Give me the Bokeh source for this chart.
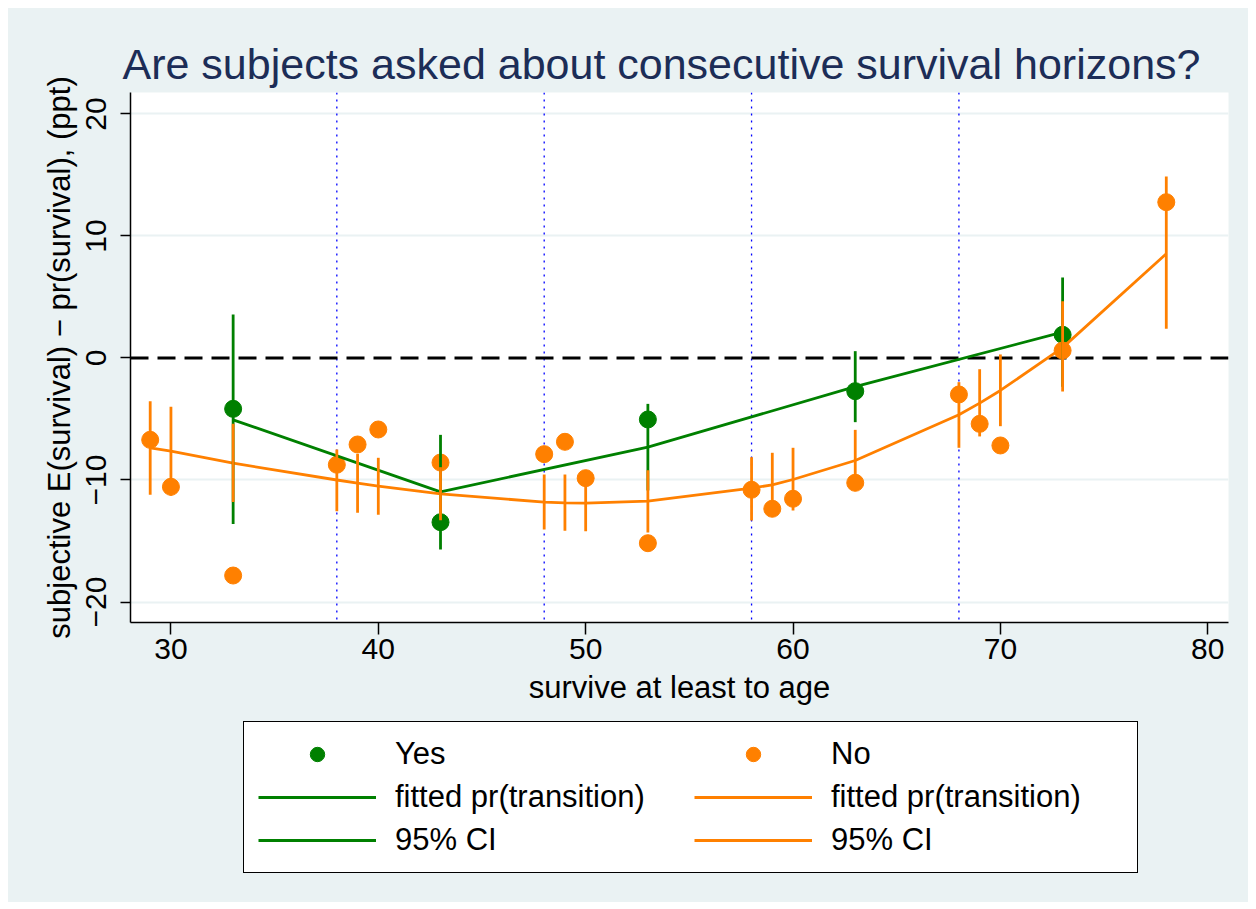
from bokeh.plotting import figure
from bokeh.layouts import column
from bokeh.models import Range1d, FixedTicker, Span, Legend, LegendItem
from bokeh.embed import file_html
from bokeh.resources import INLINE

# ---- data ----
ages_yes = [33, 43, 53, 63, 73]
mean_yes = [-4.17, -13.46, -5.04, -2.72, 1.9]
fit_yes = [-5.07, -10.97, -7.31, -2.35, 2.12]
lo_yes = [-13.6, -15.7, -10.86, -5.26, -2.36]
hi_yes = [3.57, -6.3, -3.76, 0.56, 6.6]

ages_no = [29, 30, 33, 38, 39, 40, 43, 48, 49, 50, 53, 58, 59, 60, 63, 68, 69, 70, 73, 78]
mean_no = [-6.71, -10.56, -17.83, -8.75, -7.09, -5.86, -8.57, -7.88, -6.87, -9.85,
           -15.18, -10.8, -12.36, -11.54, -10.23, -2.99, -5.4, -7.17, 0.61, 12.77]
fit_no = [-7.36, -7.64, -8.62, -10.0, -10.26, -10.5, -11.13, -11.82, -11.87, -11.9,
          -11.74, -10.67, -10.4, -9.96, -8.4, -4.66, -3.7, -2.66, 0.85, 8.54]
lo_no = [-11.2, -11.3, -11.8, -12.56, -12.69, -12.85, -13.3, -14.06, -14.17, -14.2,
         -14.3, -13.32, -13.0, -12.5, -10.91, -7.36, -6.43, -5.59, -2.75, 2.39]
hi_no = [-3.54, -4.0, -5.4, -7.5, -7.86, -8.18, -8.95, -9.55, -9.55, -9.55,
         -9.2, -8.13, -7.77, -7.36, -5.89, -1.98, -0.92, 0.29, 4.66, 14.88]

x_ticks = [30, 40, 50, 60, 70, 80]
y_ticks = [-20, -10, 0, 10, 20]
y_tick_labels = {-20: "\u221220", -10: "\u221210", 0: "0", 10: "10", 20: "20"}
x_tick_labels = {30: "30", 40: "40", 50: "50", 60: "60", 70: "70", 80: "80"}
vlines = [38, 48, 58, 68]
legend_labels = ["Yes", "fitted pr(transition)", "95% CI",
                 "No", "fitted pr(transition)", "95% CI"]

GREEN = "#008000"
ORANGE = "#FF8000"
BG = "#EAF2F3"
FONT = "Liberation Sans"

p = figure(frame_width=1098, frame_height=530,
           min_border_left=122, min_border_right=20, min_border_top=84, min_border_bottom=20,
           x_range=Range1d(28.05, 81.0), y_range=Range1d(-21.68, 21.76),
           output_backend="svg", toolbar_location=None,
           background_fill_color="white", border_fill_color=BG, outline_line_color=None)

# title
p.title.text = "Are subjects asked about consecutive survival horizons?"
p.title.text_font = FONT
p.title.text_font_size = "43px"
p.title.text_font_style = "normal"
p.title.text_color = "#1c2d57"
p.title.align = "left"
p.title.offset = -8
p.title.standoff = 10

# grid
p.xgrid.visible = False
p.ygrid.ticker = FixedTicker(ticks=[-20, -10, 10, 20])
p.ygrid.grid_line_color = BG
p.ygrid.grid_line_width = 2

# axes
for ax in (p.xaxis[0], p.yaxis[0]):
    ax.axis_line_color = "black"
    ax.axis_line_width = 1.5
    ax.major_tick_line_color = "black"
    ax.major_tick_line_width = 1.5
    ax.major_tick_in = 0
    ax.minor_tick_line_color = None
    ax.major_label_text_font = FONT
    ax.major_label_text_font_size = "30px"
    ax.major_label_text_color = "black"
    ax.axis_label_text_font = FONT
    ax.axis_label_text_font_size = "31px"
    ax.axis_label_text_font_style = "normal"
    ax.axis_label_text_color = "black"

p.xaxis.ticker = FixedTicker(ticks=x_ticks)
p.xaxis.major_label_overrides = x_tick_labels
p.xaxis.major_tick_out = 12
p.xaxis.major_label_standoff = 4
p.xaxis.axis_label = "survive at least to age"
p.xaxis.axis_label_standoff = 8

p.yaxis.ticker = FixedTicker(ticks=y_ticks)
p.yaxis.major_label_overrides = y_tick_labels
p.yaxis.major_label_orientation = "vertical"
p.yaxis.major_tick_out = 10
p.yaxis.major_label_standoff = 14
p.yaxis.axis_label = "subjective E(survival) \u2212 pr(survival), (ppt)"
p.yaxis.axis_label_standoff = 7

# reference lines
for v in vlines:
    p.add_layout(Span(location=v, dimension="height", line_color="blue",
                      line_width=1.3, line_dash="2 5", level="underlay"))
p.add_layout(Span(location=0, dimension="width", line_color="black",
                  line_width=3, line_dash="18 9", level="underlay"))

# data
p.scatter(ages_yes, mean_yes, size=17, fill_color=GREEN, line_color=GREEN)
p.scatter(ages_no, mean_no, size=17, fill_color=ORANGE, line_color=ORANGE)
p.line(ages_yes, fit_yes, line_color=GREEN, line_width=2.8)
p.line(ages_no, fit_no, line_color=ORANGE, line_width=2.8)
p.segment(x0=ages_yes, y0=lo_yes, x1=ages_yes, y1=hi_yes, line_color=GREEN, line_width=2.8)
p.segment(x0=ages_no, y0=lo_no, x1=ages_no, y1=hi_no, line_color=ORANGE, line_width=2.8)

# ---- legend strip (separate figure below, same background) ----
# the same series are drawn here, but outside this strip's ranges, so only
# their legend entries show
q = figure(width=1240, height=195, min_border=0,
           x_range=Range1d(0, 1), y_range=Range1d(100, 101),
           output_backend="svg", toolbar_location=None,
           background_fill_color=BG, border_fill_color=BG, outline_line_color=None)
q.axis.visible = False
q.grid.visible = False
rs = [
    q.scatter(ages_yes, mean_yes, size=13, fill_color=GREEN, line_color=GREEN),
    q.line(ages_yes, fit_yes, line_color=GREEN, line_width=2.8),
    q.segment(x0=ages_yes, y0=lo_yes, x1=ages_yes, y1=hi_yes, line_color=GREEN, line_width=2.8),
    q.scatter(ages_no, mean_no, size=13, fill_color=ORANGE, line_color=ORANGE),
    q.line(ages_no, fit_no, line_color=ORANGE, line_width=2.8),
    q.segment(x0=ages_no, y0=lo_no, x1=ages_no, y1=hi_no, line_color=ORANGE, line_width=2.8),
]
legend = Legend(items=[LegendItem(label=lab, renderers=[r]) for lab, r in zip(legend_labels, rs)],
                ncols=2, location=(113, 29))
legend.border_line_color = "black"
legend.border_line_alpha = 1.0
legend.border_line_width = 1.5
legend.background_fill_color = "white"
legend.background_fill_alpha = 1.0
legend.padding = 14
legend.spacing = 7
legend.margin = 0
legend.glyph_width = 118
legend.glyph_height = 36
legend.label_height = 36
legend.label_width = 292
legend.label_standoff = 19
legend.label_text_font = FONT
legend.label_text_font_size = "31px"
legend.label_text_color = "black"
q.add_layout(legend, "center")

layout = column(p, q, spacing=0)
layout.styles = {"margin-left": "8px", "margin-top": "8px", "background-color": BG}

open("out.html", "w").write(file_html(layout, INLINE))
